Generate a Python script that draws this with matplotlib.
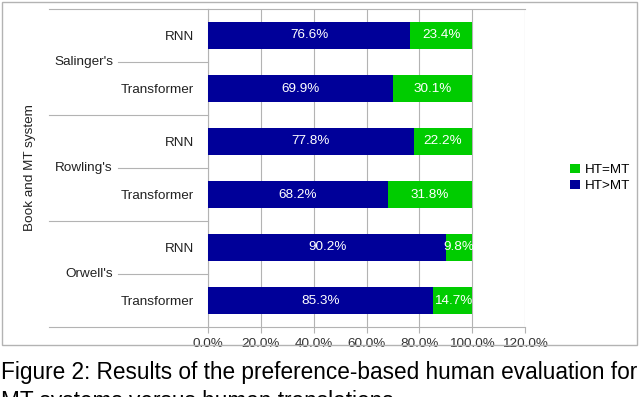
import matplotlib
matplotlib.use("Agg")
import matplotlib.pyplot as plt
from matplotlib.patches import Rectangle
import matplotlib.transforms as mtransforms

plt.rcParams['font.family'] = ['Liberation Sans', 'DejaVu Sans']

books = ["Salinger's", "Rowling's", "Orwell's"]
systems = ["RNN", "Transformer"]
ht_gt_mt = [76.6, 69.9, 77.8, 68.2, 90.2, 85.3]
ht_eq_mt = [23.4, 30.1, 22.2, 31.8, 9.8, 14.7]
xticks = [0, 20, 40, 60, 80, 100, 120]

blue = '#000099'
green = '#00cc00'
grid = '#b3b3b3'
fs = 9.7

fig = plt.figure(figsize=(6.4, 3.97), dpi=100)
fig.patches.append(Rectangle((2 / 640, 1 - 345 / 397), 635 / 640, 343 / 397,
                             transform=fig.transFigure, fill=False,
                             edgecolor='#b3b3b3', linewidth=1.0))

ax = fig.add_axes([208 / 640, 1 - 327 / 397, 317 / 640, 318 / 397])
n = len(ht_gt_mt)
ys = list(range(n))
ax.barh(ys, ht_gt_mt, height=0.5, color=blue, label='HT>MT', zorder=3)
ax.barh(ys, ht_eq_mt, left=ht_gt_mt, height=0.5, color=green, label='HT=MT', zorder=3)
for y, a, b in zip(ys, ht_gt_mt, ht_eq_mt):
    ax.text(a / 2, y, f"{a:.1f}%", color='white', ha='center', va='center', fontsize=fs, zorder=4)
    ax.text(a + b / 2, y, f"{b:.1f}%", color='white', ha='center', va='center', fontsize=fs, zorder=4)

ax.set_ylim(n - 0.5, -0.5)
ax.set_xlim(0, 120)
ax.set_xticks(xticks)
ax.set_xticklabels([f"{v:.1f}%" for v in xticks], fontsize=fs, color='#333333')
ax.tick_params(axis='x', length=4, color=grid, pad=4)
ax.xaxis.grid(True, color=grid, linewidth=0.8, zorder=0)
for s in ['left', 'right', 'top', 'bottom']:
    ax.spines[s].set_color(grid)
    ax.spines[s].set_linewidth(0.8)
ax.spines['right'].set_visible(False)

ax.set_yticks(ys)
ax.set_yticklabels([systems[i % 2] for i in ys], fontsize=fs, color='#222222')
ax.tick_params(axis='y', length=0, pad=10)

# group lines and labels left of the axis
trans = mtransforms.blended_transform_factory(fig.transFigure, ax.transData)
x_axis = 208 / 640
for g in range(len(books) + 1):
    y = g * 2 - 0.5
    ax.plot([49 / 640, x_axis], [y, y], transform=trans, color=grid,
            linewidth=0.8, clip_on=False)
for g, name in enumerate(books):
    y = g * 2 + 0.5
    ax.plot([118 / 640, x_axis], [y, y], transform=trans, color=grid,
            linewidth=0.8, clip_on=False)
    ax.text(113 / 640, y, name, transform=trans, ha='right', va='center',
            fontsize=fs, color='#222222')

fig.text(30 / 640, 1 - 168 / 397, "Book and MT system", rotation=90,
         ha='center', va='center', fontsize=fs, color='#222222')

handles, labels = ax.get_legend_handles_labels()
fig.legend(handles[::-1], labels[::-1], loc='center left',
           bbox_to_anchor=(558 / 640, 1 - 178 / 397), frameon=False,
           fontsize=fs, handlelength=0.7, handleheight=0.7, handletextpad=0.4,
           labelspacing=0.3)

fig.text(1 / 640, 1 - 372 / 397,
         "Figure 2: Results of the preference-based human evaluation for",
         ha='left', va='center', fontsize=16.3)
fig.text(1 / 640, 1 - 401 / 397, "MT systems versus human translations.",
         ha='left', va='center', fontsize=16.3)

fig.savefig("out.png", dpi=100)
